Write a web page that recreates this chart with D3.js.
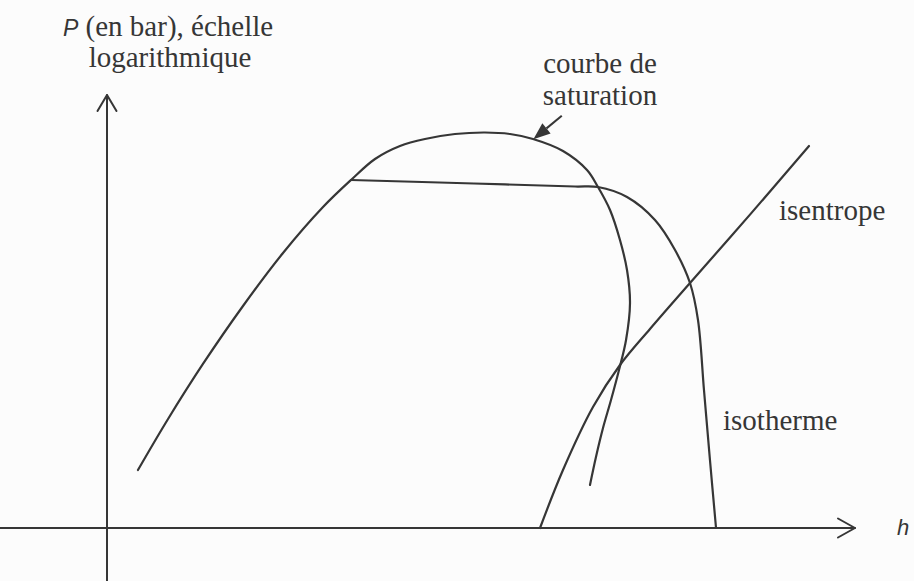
<!DOCTYPE html>
<html lang="fr">
<head>
<meta charset="utf-8">
<script src="https://cdn.jsdelivr.net/npm/d3@7"></script>
<style>
  html, body { margin: 0; padding: 0; background: #fcfcfc; }
  svg { display: block; }
</style>
</head>
<body>
<svg id="chart" width="914" height="581"></svg>
<script>
// Diagramme (h, log P) schématique : enthalpie en abscisse (0–100), log P en ordonnée (0–100)

// Courbe de saturation (liquide saturé à gauche, vapeur saturée à droite)
const saturationH = [4.14, 8.16, 12.83, 18.18, 23.53, 28.88, 32.62, 35.83, 39.17, 42.51, 46.52, 50.53, 53.88, 56.95, 60.96, 64.17, 65.64, 67.25, 68.58, 69.52, 69.92, 69.39, 68.45, 67.38, 66.31, 65.37, 64.57];
const saturationP = [13.39, 25.17, 37.88, 51.27, 63.51, 74.13, 80.37, 85.22, 88.22, 89.84, 90.99, 91.34, 90.99, 89.84, 87.07, 82.68, 78.75, 73.44, 66.51, 59.58, 51.96, 43.42, 36.49, 29.56, 23.09, 16.40, 9.93];

// Isotherme : palier de changement d'état puis branche vapeur sèche
const isothermH = [32.62, 49.06, 62.57, 65.64, 69.52, 73.26, 75.94, 77.94, 79.01, 79.81, 80.61, 81.42];
const isothermP = [80.37, 79.56, 78.87, 78.75, 76.44, 71.13, 64.20, 56.58, 48.04, 31.87, 15.70, 0];

// Isentrope
const isentropeH = [93.85, 85.96, 77.94, 72.59, 68.58, 64.97, 60.96, 57.89];
const isentropeP = [88.22, 72.37, 56.58, 45.96, 37.64, 27.94, 13.39, 0];

// Flèche désignant la courbe de saturation
const pointerH = [60.8, 57.0];
const pointerP = [95.2, 89.8];

// Textes
const yAxisTitle = ["(en bar), échelle", "logarithmique"];
const yAxisSymbol = "P";
const xAxisSymbol = "h";
const saturationLabel = ["courbe de", "saturation"];
const isentropeLabel = "isentrope";
const isothermLabel = "isotherme";

const svg = d3.select("#chart");
const ink = "#363636";
const serif = "'Liberation Serif', 'Times New Roman', serif";
const sans = "'Liberation Sans', Arial, sans-serif";

const x = d3.scaleLinear().domain([0, 100]).range([107, 855]);
const y = d3.scaleLinear().domain([0, 100]).range([528, 95]);

const line = d3.line()
  .x(d => x(d[0]))
  .y(d => y(d[1]))
  .curve(d3.curveCatmullRom.alpha(0.5));

const zip = (a, b) => a.map((v, i) => [v, b[i]]);

// Axes avec pointes ouvertes
const axes = svg.append("g")
  .attr("stroke", ink)
  .attr("stroke-width", 2)
  .attr("fill", "none")
  .attr("stroke-linecap", "round")
  .attr("stroke-linejoin", "round");

const xEnd = x(100), yTop = y(100);
axes.append("line").attr("x1", 0).attr("x2", xEnd).attr("y1", y(0)).attr("y2", y(0));
axes.append("path").attr("d", `M${xEnd - 17},${y(0) - 9.5} L${xEnd},${y(0)} L${xEnd - 17},${y(0) + 9.5}`);
axes.append("line").attr("x1", x(0)).attr("x2", x(0)).attr("y1", 581).attr("y2", yTop);
axes.append("path").attr("d", `M${x(0) - 9.5},${yTop + 16} L${x(0)},${yTop} L${x(0) + 9.5},${yTop + 16}`);

// Courbes
const curves = svg.append("g")
  .attr("fill", "none")
  .attr("stroke", ink)
  .attr("stroke-width", 2.2)
  .attr("stroke-linecap", "round");

curves.append("path").attr("d", line(zip(saturationH, saturationP)));
curves.append("path").attr("d", line(zip(isothermH, isothermP)));
curves.append("path").attr("d", line(zip(isentropeH, isentropeP)));

// Flèche pleine vers la courbe de saturation
const [x0, y0, x1, y1] = [x(pointerH[0]), y(pointerP[0]), x(pointerH[1]), y(pointerP[1])];
const ang = Math.atan2(y1 - y0, x1 - x0);
const headLen = 17, headHalf = 6.5;
const bx = x1 - headLen * Math.cos(ang), by = y1 - headLen * Math.sin(ang);
svg.append("line")
  .attr("x1", x0).attr("y1", y0).attr("x2", bx).attr("y2", by)
  .attr("stroke", ink).attr("stroke-width", 2);
svg.append("path")
  .attr("d", `M${x1},${y1} L${bx - headHalf * Math.sin(ang)},${by + headHalf * Math.cos(ang)} L${bx + headHalf * Math.sin(ang)},${by - headHalf * Math.cos(ang)} Z`)
  .attr("fill", ink);

// Titre de l'axe vertical
const yTitle = svg.append("text")
  .attr("x", 63).attr("y", 36)
  .attr("fill", ink)
  .attr("font-family", serif).attr("font-size", 29);
yTitle.append("tspan")
  .attr("font-family", sans).attr("font-style", "italic").attr("font-size", 23)
  .text(yAxisSymbol);
yTitle.append("tspan").text(" " + yAxisTitle[0]);
svg.append("text")
  .attr("x", 170).attr("y", 67).attr("text-anchor", "middle")
  .attr("fill", ink).attr("font-family", serif).attr("font-size", 29)
  .text(yAxisTitle[1]);

// Symbole de l'axe horizontal
svg.append("text")
  .attr("x", 897).attr("y", 535)
  .attr("fill", ink).attr("font-family", sans).attr("font-style", "italic").attr("font-size", 22)
  .text(xAxisSymbol);

// Étiquettes des courbes
svg.append("g")
  .attr("fill", ink).attr("font-family", serif).attr("font-size", 29).attr("text-anchor", "middle")
  .selectAll("text").data(saturationLabel).join("text")
  .attr("x", 600).attr("y", (d, i) => 73 + i * 32)
  .text(d => d);

svg.append("text")
  .attr("x", 779).attr("y", 220)
  .attr("fill", ink).attr("font-family", serif).attr("font-size", 29)
  .text(isentropeLabel);

svg.append("text")
  .attr("x", 723).attr("y", 430)
  .attr("fill", ink).attr("font-family", serif).attr("font-size", 29)
  .text(isothermLabel);
</script>
</body>
</html>
